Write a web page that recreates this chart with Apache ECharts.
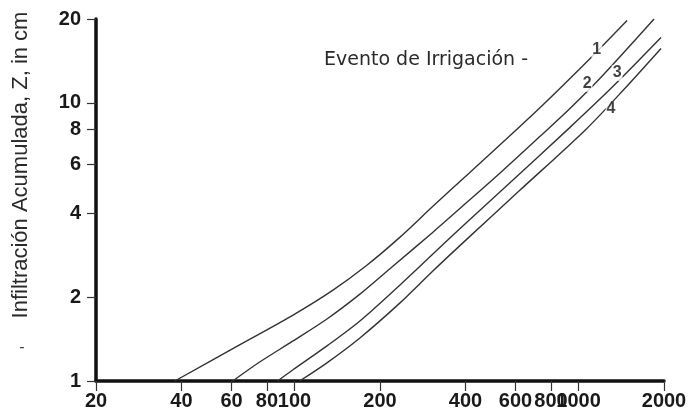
<!DOCTYPE html>
<html>
<head>
<meta charset="utf-8">
<script src="https://cdn.jsdelivr.net/npm/echarts@6/dist/echarts.min.js"></script>
<style>html,body{margin:0;padding:0;background:#fff}#c{width:691px;height:420px}</style>
</head>
<body>
<div id="c"></div>
<script>
const xTicks = [20, 40, 60, 80, 100, 200, 400, 600, 800, 1000, 2000];
const yTicks = [1, 2, 4, 6, 8, 10, 20];

const curve1 = [[37.9,1],[61.1,1.313],[98.5,1.722],[136.2,2.116],[179.3,2.6],[234.2,3.275],[305.8,4.227],[412.6,5.596],[709.8,9.324],[1090,14.31],[1482.6,19.74]];
const curve2 = [[60.6,1],[75.4,1.17],[98.5,1.39],[129.7,1.667],[169.5,2.048],[221.4,2.579],[305.8,3.413],[402.8,4.369],[539.2,5.688],[727.2,7.527],[927.2,9.478],[1181.8,12.14],[1845,20]];
const curve3 = [[87.2,1],[98.5,1.095],[129.7,1.334],[169.5,1.64],[234.2,2.205],[305.8,2.847],[402.8,3.707],[539.2,4.864],[927.2,8.106],[1334.6,11.55],[1952,17.15]];
const curve4 = [[104.2,1],[129.7,1.16],[169.5,1.425],[234.2,1.901],[305.8,2.476],[402.8,3.222],[618.6,4.825],[1063.8,8.039],[1447,11.18],[1952,15.67]];

const curveNames = ['1', '2', '3', '4'];
const labelX = [1160, 1072, 1368, 1302];
const labelY = [15.5, 11.7, 12.8, 9.5];

const titleText = 'Evento de Irrigación -';
const yName = 'Infiltración Acumulada, Z, in cm';

const chart = echarts.init(document.getElementById('c'), null, {renderer: 'canvas'});
const lineStyle = {color: '#333', width: 1.4};
const curves = [curve1, curve2, curve3, curve4];

const option = {
  animation: false,
  backgroundColor: '#ffffff',
  grid: {left: 96, right: 27, top: 19, bottom: 39, containLabel: false},
  xAxis: {
    type: 'log', logBase: 10, min: 20, max: 2000,
    axisLine: {show: true, lineStyle: {color: '#111', width: 3.5}},
    axisTick: {show: true, customValues: xTicks, length: 10, lineStyle: {color: '#333', width: 1.2}},
    axisLabel: {show: true, customValues: xTicks, margin: 10, color: '#1a1a1a',
      fontFamily: 'Liberation Sans', fontWeight: 'bold', fontSize: 20,
      formatter: v => String(Math.round(v))},
    splitLine: {show: false}, minorTick: {show: false}, minorSplitLine: {show: false}
  },
  yAxis: {
    type: 'log', logBase: 10, min: 1, max: 20,
    axisLine: {show: true, lineStyle: {color: '#111', width: 3.5}},
    axisTick: {show: true, customValues: yTicks, length: 9, lineStyle: {color: '#333', width: 1.2}},
    axisLabel: {show: true, customValues: yTicks, margin: 15, color: '#1a1a1a',
      fontFamily: 'Liberation Sans', fontWeight: 'bold', fontSize: 20,
      formatter: v => String(Math.round(v))},
    splitLine: {show: false}, minorTick: {show: false}, minorSplitLine: {show: false}
  },
  series: curves.map((c, i) => ({
    type: 'line', name: curveNames[i], data: c, showSymbol: false, smooth: 0.3,
    lineStyle: lineStyle, clip: false, silent: true, z: 1
  })).concat([{
    type: 'scatter', symbolSize: 0, silent: true, clip: false, z: 5,
    data: labelX.map((x, i) => ({value: [x, labelY[i]], name: curveNames[i]})),
    label: {show: true, position: 'inside', formatter: p => p.name,
      backgroundColor: '#ffffff', padding: [0, 1],
      fontFamily: 'Liberation Sans', fontWeight: 'bold', fontSize: 16, color: '#111'}
  }]),
  graphic: [
    {type: 'text', x: 324, y: 60, style: {text: titleText, fontFamily: 'DejaVu Sans', fontSize: 19,
      fill: '#2a2a2a', textAlign: 'left', textVerticalAlign: 'middle'}},
    {type: 'text', x: 21, y: 165, rotation: Math.PI / 2, style: {text: yName, fontFamily: 'Liberation Sans',
      fontSize: 22, fill: '#2a2a2a', textAlign: 'center', textVerticalAlign: 'middle'}},
    {type: 'text', x: 22, y: 348, style: {text: '-', fontFamily: 'Liberation Sans', fontSize: 16,
      fill: '#444', textAlign: 'center', textVerticalAlign: 'middle'}}
  ]
};
chart.setOption(option);
</script>
</body>
</html>
